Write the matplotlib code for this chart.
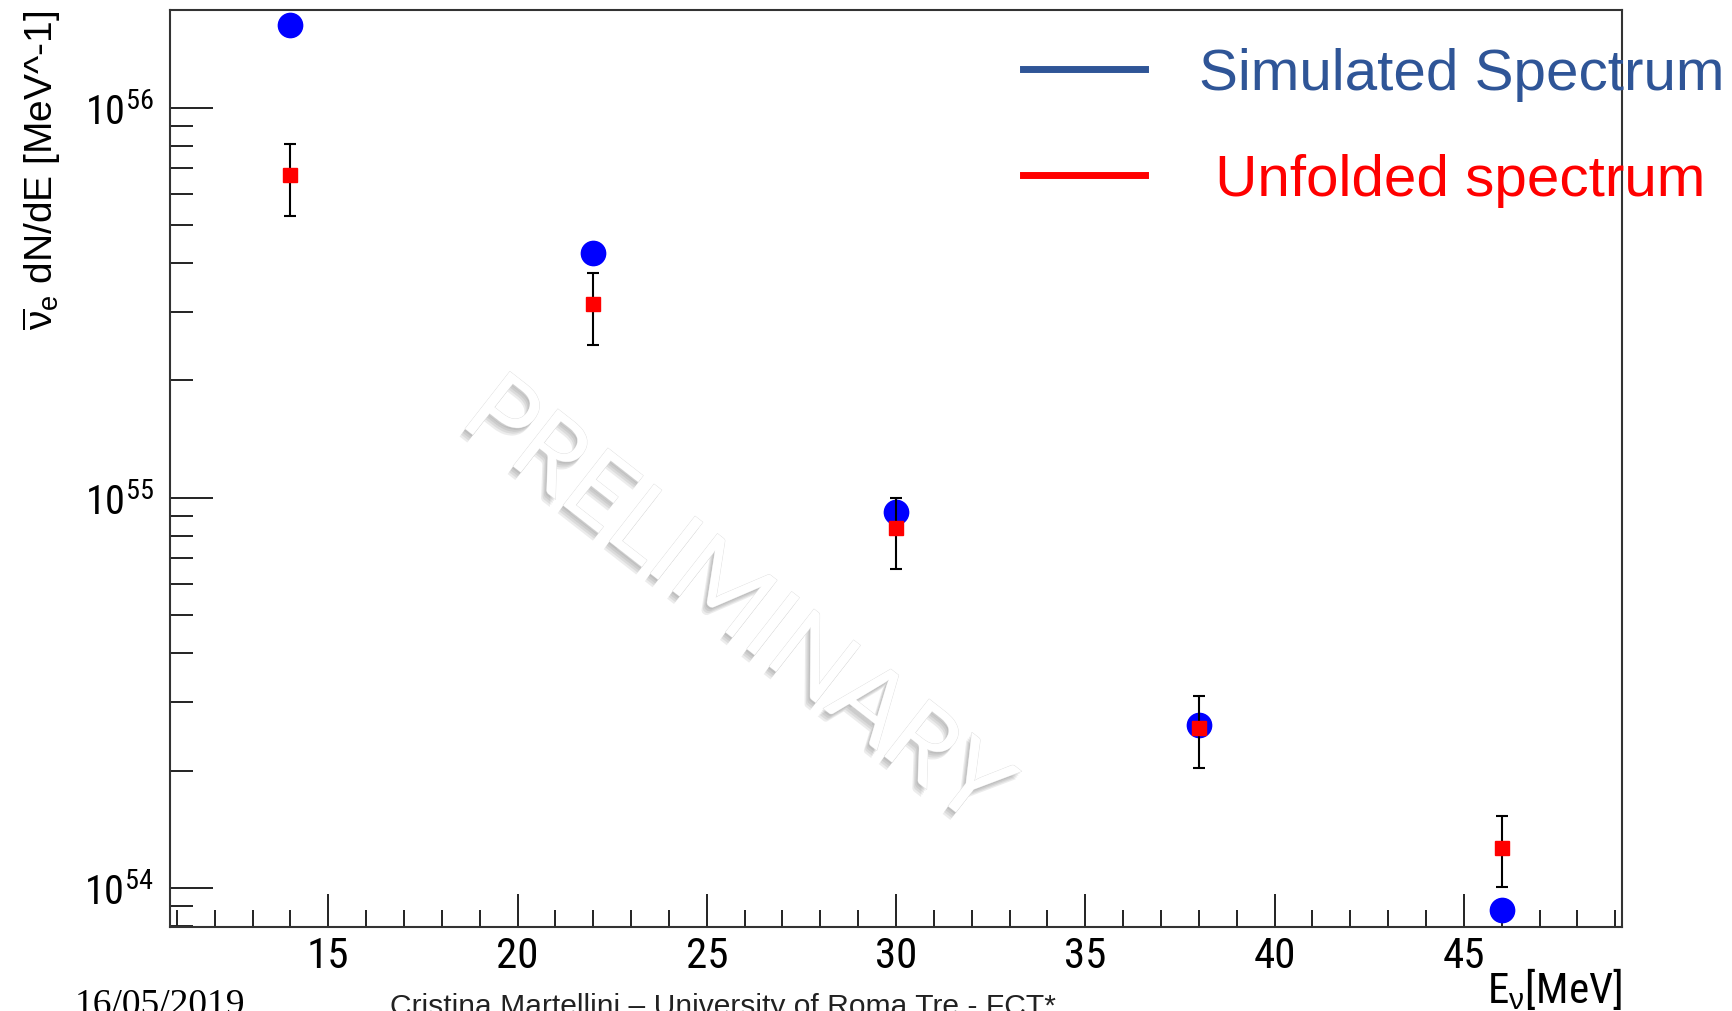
import numpy as np
import matplotlib.pyplot as plt
import matplotlib.patheffects as pe
from matplotlib import font_manager
from matplotlib.font_manager import FontProperties
from matplotlib.lines import Line2D
from matplotlib.ticker import LogLocator, MultipleLocator, NullFormatter

# Neutrino energy bins [MeV]
energy = [14, 22, 30, 38, 46]

# Simulated spectrum dN/dE [MeV^-1]
simulated = [1.63e56, 4.24e55, 9.19e54, 2.62e54, 8.8e53]

# Unfolded spectrum with its lower / upper error bounds
unfolded = [6.73e55, 3.14e55, 8.39e54, 2.58e54, 1.27e54]
unfolded_hi = [8.07e55, 3.77e55, 1.00e55, 3.10e54, 1.53e54]
unfolded_lo = [5.28e55, 2.47e55, 6.59e54, 2.03e54, 1.006e54]

x_ticks = [15, 20, 25, 30, 35, 40, 45]
y_exponents = [54, 55, 56]
legend_labels = ['Simulated Spectrum', ' Unfolded spectrum']


def condensed_font():
    # first condensed regular sans face found on the system
    prefs = ['Liberation Sans Narrow', 'Roboto Condensed', 'DejaVu Sans',
             'Noto Sans', 'Open Sans', 'Roboto', 'Lato', 'Inter']
    cands = [f for f in font_manager.fontManager.ttflist
             if str(f.stretch) in ('condensed', 'semi-condensed', 'extra-condensed')
             and f.style == 'normal' and f.weight in (400, 'normal', 'regular')]
    for p in prefs:
        for f in cands:
            if f.name == p:
                return f.fname
    return cands[0].fname if cands else None


plt.rcParams['font.family'] = ['Liberation Sans', 'DejaVu Sans']
plt.rcParams['mathtext.fontset'] = 'custom'
plt.rcParams['mathtext.rm'] = 'Liberation Sans'
plt.rcParams['mathtext.it'] = 'Liberation Sans'
plt.rcParams['mathtext.bf'] = 'Liberation Sans:bold'

path = condensed_font()
if path:
    xt_font = FontProperties(fname=path, size=31)
    yt_font = FontProperties(fname=path, size=29)
    xl_font = FontProperties(fname=path, size=31)
else:
    xt_font = FontProperties(family='Liberation Sans', size=28)
    yt_font = FontProperties(family='Liberation Sans', size=26)
    xl_font = FontProperties(family='Liberation Sans', size=28)

fig = plt.figure(figsize=(17.32, 10.12), dpi=100)
ax = fig.add_axes([0.0982, 0.0830, 0.8383, 0.9061])

yerr = [np.array(unfolded) - np.array(unfolded_lo),
        np.array(unfolded_hi) - np.array(unfolded)]

ax.plot(energy, simulated, 'o', color='#0000ff', ms=17.5, zorder=3)
ax.errorbar(energy, unfolded, yerr=yerr, fmt='none', ecolor='black',
            elinewidth=1.5, capsize=4, capthick=1.5, zorder=4)
ax.plot(energy, unfolded, 's', color='#ff0000', ms=9.5, zorder=5)

ax.set_yscale('log')
ax.set_xticks(x_ticks, [str(v) for v in x_ticks], fontproperties=xt_font)
ax.set_yticks([10.0 ** e for e in y_exponents],
              [r'$\mathdefault{10^{%d}}$' % e for e in y_exponents],
              fontproperties=yt_font)
ax.yaxis.set_minor_locator(LogLocator(base=10, subs=np.arange(2, 10), numticks=10))
ax.yaxis.set_minor_formatter(NullFormatter())
ax.xaxis.set_minor_locator(MultipleLocator(1))
ax.set_xlim(10.82, 49.18)
ax.set_ylim(7.95e53, 1.78e56)

ax.tick_params(which='both', direction='in', top=False, right=False,
               width=1.4, color='#222222')
ax.tick_params(axis='y', which='major', length=31, pad=12)
ax.tick_params(axis='y', which='minor', length=16.5)
ax.tick_params(axis='x', which='major', length=24, pad=6)
ax.tick_params(axis='x', which='minor', length=12)

for s in ax.spines.values():
    s.set_linewidth(1.5)
    s.set_color('#333333')

ax.set_ylabel(r'$\overline{\nu}_{e}$ dN/dE [MeV^-1]', fontsize=28, loc='top')
ax.yaxis.set_label_coords(-0.074, 1.0)
ax.set_xlabel(r'E$_{\nu}$[MeV]', fontproperties=xl_font, loc='right')
ax.xaxis.set_label_coords(1.0, -0.066)
ax.xaxis.label.set_va('center')

# legend drawn as plain coloured lines
handles = [Line2D([], [], color='#2f5597', lw=5),
           Line2D([], [], color='#ff0000', lw=5)]
ax.legend(handles, legend_labels, loc='upper left',
          bbox_to_anchor=(0.5875, 0.9595), bbox_transform=ax.transAxes,
          frameon=False, fontsize=42, handlelength=2.09,
          handletextpad=0.93, labelspacing=0.89, borderpad=0,
          borderaxespad=0, labelcolor=['#2f5597', '#ff0000'])

# watermark: white letters over a soft grey drop shadow
shadow = [pe.SimplePatchShadow(offset=(-1.0 * k, -1.4 * k), shadow_rgbFace='#555555', alpha=0.11)
          for k in (1, 2, 3, 4)]
ax.text(0.389, 0.353, 'PRELIMINARY', transform=ax.transAxes, rotation=-38,
        ha='center', va='center', fontsize=73, family='Lato',
        color='white', zorder=1,
        path_effects=shadow + [pe.Stroke(linewidth=0.6, foreground='#dddddd'), pe.Normal()])

# slide footer
fig.text(0.0430, -0.003, '16/05/2019', family='Liberation Serif', fontsize=27,
         va='baseline', ha='left', color='black')
fig.text(0.2252, -0.003, 'Cristina Martellini \u2013 University of Roma Tre - FCT*',
         family='Liberation Sans', fontsize=21.6, va='baseline', ha='left', color='#222222')

fig.savefig('out.png', dpi=100)
